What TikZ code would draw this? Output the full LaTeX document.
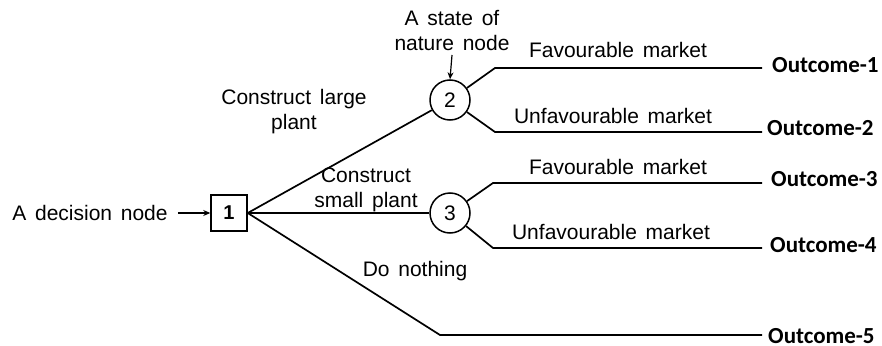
\documentclass[tikz,border=0pt]{standalone}
\usepackage{fontspec}
\setmainfont[WordSpace=1.5]{Liberation Sans}
\newfontfamily\outfont{Carlito}
\usetikzlibrary{arrows.meta}
\begin{document}
\begin{tikzpicture}[x=1pt,y=-1pt,
  br/.style={line width=1.7pt},
  lbl/.style={font=\fontsize{21}{25}\selectfont, inner sep=0pt, align=center},
  outc/.style={font=\outfont\bfseries\fontsize{23}{26}\selectfont, inner sep=0pt, anchor=west},
  dbox/.style={draw, line width=1.5pt, minimum size=36pt, inner sep=0pt, font=\fontsize{20}{22}\selectfont\bfseries},
  cnode/.style={draw, circle, line width=1.5pt, minimum size=40pt, inner sep=0pt, font=\fontsize{21}{22}\selectfont},
  arr/.style={line width=1.2pt, -{Stealth[length=7pt,width=6pt]}}]
\useasboundingbox (0,0) rectangle (882,345);
% nodes
\node[dbox] (n1) at (229,213) {1};
\node[cnode] (n2) at (450,100) {2};
\node[cnode] (n3) at (450,213) {3};
\coordinate (a1) at (495,68);
\coordinate (e1) at (762,68);
\coordinate (a2) at (495,132);
\coordinate (e2) at (762,132);
\coordinate (a3) at (493,183);
\coordinate (e3) at (762,183);
\coordinate (a4) at (493,248);
\coordinate (e4) at (762,248);
\coordinate (a5) at (440,335);
\coordinate (e5) at (762,335);
% labels
\node[lbl] (dec) at (90,213) {A decision node};
\node[lbl] (stn) at (452,31) {A state of\\nature node};
\node[lbl] (cl) at (294,112) {Construct large\\plant};
\node[lbl] (cs) at (366,190) {Construct\\small plant};
\node[lbl] (dn) at (415,271) {Do nothing};
\node[lbl] (f1) at (618,50) {Favourable market};
\node[lbl] (u1) at (613,116) {Unfavourable market};
\node[lbl] (f2) at (618,167) {Favourable market};
\node[lbl] (u2) at (611,232) {Unfavourable market};
\node[outc] (o1) at (772,65) {Outcome-1};
\node[outc] (o2) at (767,128) {Outcome-2};
\node[outc] (o3) at (771,179) {Outcome-3};
\node[outc] (o4) at (770,245) {Outcome-4};
\node[outc] (o5) at (768,336) {Outcome-5};
% connectors
\draw[arr] (dec.east) ++(10,0) -- (n1.west);
\draw[arr] (452,55) -- (n2.north);
\draw[br] (n1.east) -- (n2);
\draw[br] (n1.east) -- (n3);
\draw[br] (n1.east) -- (a5) -- (e5);
\draw[br] (n2) -- (a1) -- (e1);
\draw[br] (n2) -- (a2) -- (e2);
\draw[br] (n3) -- (a3) -- (e3);
\draw[br] (n3) -- (a4) -- (e4);
\end{tikzpicture}
\end{document}
